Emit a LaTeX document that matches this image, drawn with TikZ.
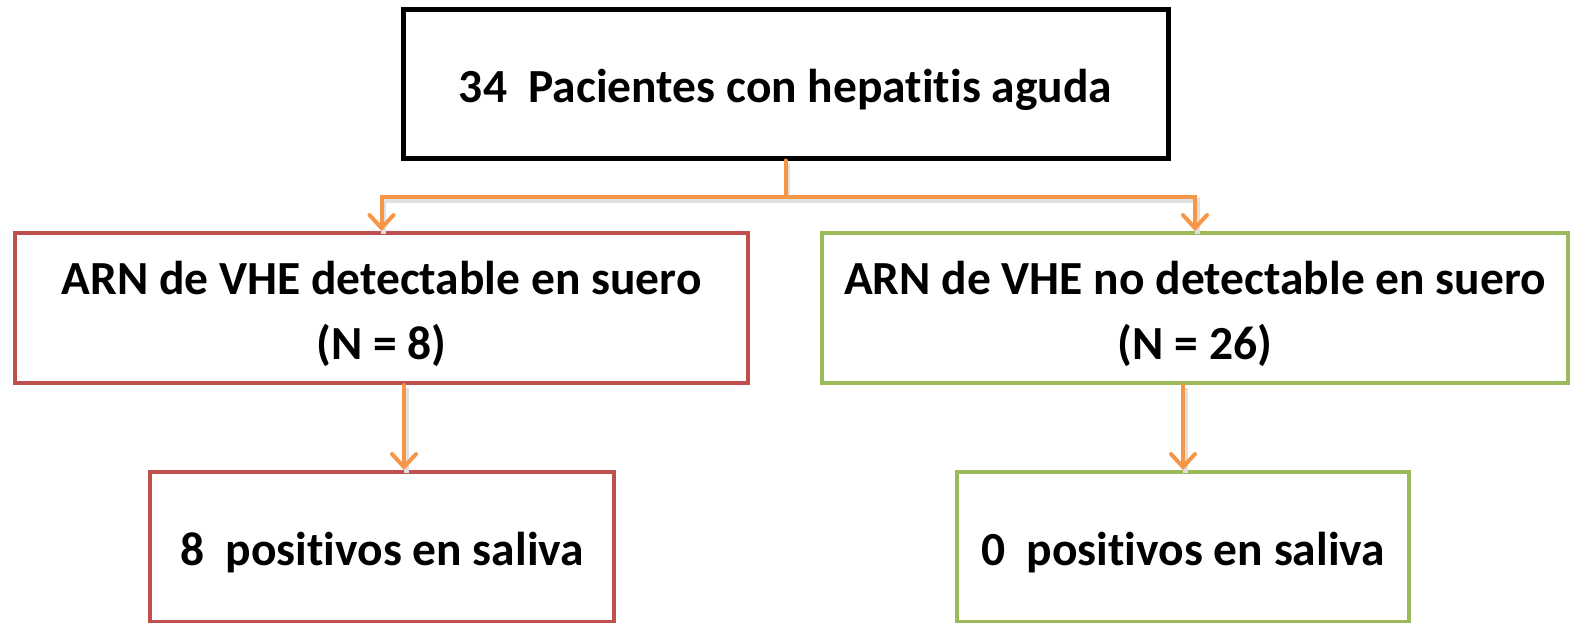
\documentclass[tikz,border=0pt]{standalone}
\usepackage{fontspec}
\setmainfont{Carlito}[Ligatures=NoCommon]
\usetikzlibrary{arrows.meta}
\definecolor{redb}{HTML}{C0504D}
\definecolor{greenb}{HTML}{9BBB59}
\definecolor{orangel}{HTML}{F79646}
\newcommand{\lowr}[1]{\raisebox{-6pt}[\height][\depth]{#1}}
\begin{document}
\begin{tikzpicture}[x=1pt,y=-1pt,
  box/.style={draw, line width=4pt, rectangle, align=center, inner sep=0pt,
    font=\bfseries\fontsize{47.5}{65}\selectfont},
  conn/.style={draw=orangel, line width=4pt, line cap=round, line join=miter},
  tip/.style={-{Straight Barb[length=13pt,width=24pt,line cap=round]}},
  shade/.style={draw=black!12, line width=5pt, transform canvas={shift={(2pt,-3pt)}}}
]
\useasboundingbox (0,0) rectangle (1571,623);
\fill[white] (0,0) rectangle (1571,623);

\node[box, line width=5pt, minimum width=765pt, minimum height=148pt] (top) at (785.5,84) {\lowr{34\ \ Pacientes con hepatitis aguda}};
\node[box, draw=redb, minimum width=733pt, minimum height=150pt] (midL) at (381.5,308) {\lowr{ARN de VHE detectable en suero}\\\lowr{(N = 8)}};
\node[box, draw=greenb, minimum width=746pt, minimum height=150pt] (midR) at (1195,308) {\lowr{ARN de VHE no detectable en suero}\\\lowr{(N = 26)}};
\node[box, draw=redb, minimum width=464pt, minimum height=150pt] (botL) at (382,547) {\lowr{8\ \ positivos en saliva}};
\node[box, draw=greenb, minimum width=452pt, minimum height=150pt] (botR) at (1183,547) {\lowr{0\ \ positivos en saliva}};

\coordinate (j) at (785.5,197);
\coordinate (aL) at (404,0);
\coordinate (aR) at (1183,0);

% shadows
\draw[shade] (top.south) -- (j) -| (midL.north);
\draw[shade] (j) -| (midR.north);
\draw[shade] (midL.south -| aL) -- (botL.north -| aL);
\draw[shade] (midR.south -| aR) -- (botR.north -| aR);

% connectors
\draw[conn] (top.south) -- (j);
\draw[conn, tip] (j) -| (midL.north);
\draw[conn, tip] (j) -| (midR.north);
\draw[conn, tip] (midL.south -| aL) -- (botL.north -| aL);
\draw[conn, tip] (midR.south -| aR) -- (botR.north -| aR);
\end{tikzpicture}
\end{document}
